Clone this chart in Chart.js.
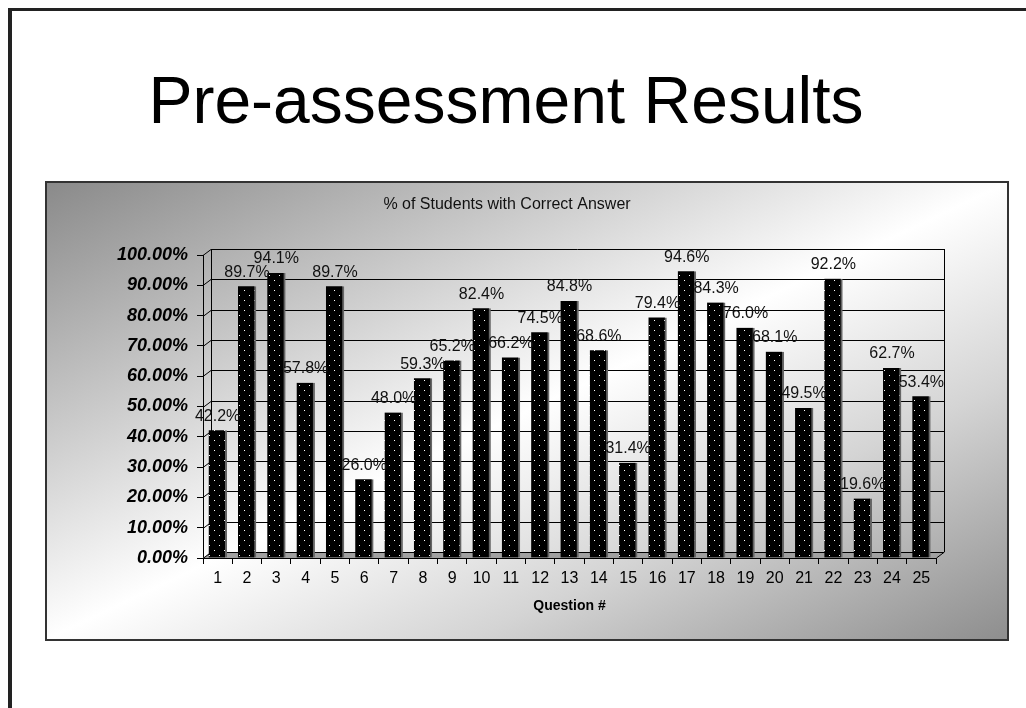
<!DOCTYPE html>
<html>
<head>
<meta charset="utf-8">
<script src="https://cdn.jsdelivr.net/npm/chart.js@4"></script>
<style>
  body { margin: 0; width: 1026px; height: 708px; overflow: hidden; background: #fff; font-family: "Liberation Sans", Arial, sans-serif; }
  #frame { position: absolute; left: 8px; top: 8px; width: 1030px; height: 720px; border-top: 3px solid #222; border-left: 4px solid #222; }
  #heading { position: absolute; left: 0; width: 1012px; top: 62px; text-align: center; font-size: 66px; line-height: 76px; color: #000; }
  #box { position: absolute; left: 45px; top: 181px; width: 960px; height: 456px; border: 2px solid #333;
         background: linear-gradient(to bottom right, #8a8a8a 0%, #d0d0d0 30%, #ffffff 50%, #d4d4d4 72%, #8e8e8e 100%); }
  #box canvas { position: absolute; left: 0; top: 0; }
</style>
</head>
<body>
<div id="frame"></div>
<div id="heading">Pre-assessment Results</div>
<div id="box"><canvas id="resultsChart" width="960" height="456"></canvas></div>
<script>
// chart data
const questions = ['1','2','3','4','5','6','7','8','9','10','11','12','13','14','15','16','17','18','19','20','21','22','23','24','25'];
const correctPct = [42.2, 89.7, 94.1, 57.8, 89.7, 26.0, 48.0, 59.3, 65.2, 82.4, 66.2, 74.5, 84.8,
                    68.6, 31.4, 79.4, 94.6, 84.3, 76.0, 68.1, 49.5, 92.2, 19.6, 62.7, 53.4];
const yTicks = [0, 10, 20, 30, 40, 50, 60, 70, 80, 90, 100];

// black fill with little white dots
function dotPattern() {
    const c = document.createElement('canvas');
    c.width = 10; c.height = 10;
    const g = c.getContext('2d');
    g.fillStyle = '#000';
    g.fillRect(0, 0, 10, 10);
    g.fillStyle = '#fff';
    g.fillRect(2, 2, 1, 1);
    g.fillRect(7, 7, 1, 1);
    return g.createPattern(c, 'repeat');
}

const DX = 8, DY = 6;  // depth offset of the back wall

// back wall grid + floor, drawn behind the bars
const wallPlugin = {
    id: 'wall',
    beforeDatasetsDraw(chart) {
        const ctx = chart.ctx;
        const y = chart.scales.y;
        const a = chart.chartArea;
        ctx.save();
        // floor
        ctx.fillStyle = '#a0a0a0';
        ctx.beginPath();
        ctx.moveTo(a.left, a.bottom);
        ctx.lineTo(a.left + DX, a.bottom - DY);
        ctx.lineTo(a.right + DX, a.bottom - DY);
        ctx.lineTo(a.right, a.bottom);
        ctx.closePath();
        ctx.fill();
        ctx.strokeStyle = '#000';
        ctx.lineWidth = 1;
        // grid lines on the back wall
        yTicks.forEach(function (v) {
            const py = Math.round(y.getPixelForValue(v)) + 0.5;
            ctx.beginPath();
            ctx.moveTo(a.left, py);
            ctx.lineTo(a.left + DX, py - DY);
            ctx.lineTo(a.right + DX, py - DY);
            ctx.stroke();
        });
        // wall edges
        ctx.beginPath();
        ctx.moveTo(a.left + DX + 0.5, a.top - DY);
        ctx.lineTo(a.left + DX + 0.5, a.bottom - DY);
        ctx.moveTo(a.right + DX + 0.5, a.top - DY);
        ctx.lineTo(a.right + DX + 0.5, a.bottom - DY);
        ctx.lineTo(a.right + 0.5, a.bottom);
        ctx.stroke();
        ctx.restore();
    }
};

// value labels above the bars
const labelPlugin = {
    id: 'barLabels',
    afterDatasetsDraw(chart) {
        const ctx = chart.ctx;
        const meta = chart.getDatasetMeta(0);
        ctx.save();
        ctx.font = '16px "Liberation Sans", Arial, sans-serif';
        ctx.fillStyle = '#111';
        ctx.textAlign = 'center';
        ctx.textBaseline = 'bottom';
        meta.data.forEach(function (bar, i) {
            ctx.fillText(correctPct[i].toFixed(1) + '%', bar.x, bar.y - 6);
        });
        ctx.restore();
    }
};

const ctx = document.getElementById('resultsChart').getContext('2d');
new Chart(ctx, {
    type: 'bar',
    data: {
        labels: questions,
        datasets: [{
            label: '% of Students with Correct Answer',
            data: correctPct,
            backgroundColor: dotPattern(),
            borderColor: '#666',
            borderWidth: { top: 0, left: 0, bottom: 0, right: 2 },
            borderSkipped: false,
            barThickness: 18
        }]
    },
    options: {
        responsive: false,
        animation: false,
        layout: { padding: { left: 31, right: 71, top: 0, bottom: 0 } },
        plugins: {
            legend: { display: false },
            tooltip: { enabled: false },
            title: {
                display: true,
                text: '% of Students with Correct Answer',
                color: '#111',
                font: { family: '"Liberation Sans", Arial, sans-serif', size: 16, weight: 'normal' },
                padding: { top: 12, bottom: 40.8 }
            }
        },
        scales: {
            x: {
                grid: { drawOnChartArea: false, tickLength: 6, color: '#000', offset: true },
                border: { color: '#000' },
                ticks: { color: '#000', padding: 5, maxRotation: 0, autoSkip: false,
                         font: { family: '"Liberation Sans", Arial, sans-serif', size: 16 } },
                title: {
                    display: true,
                    text: 'Question #',
                    color: '#000',
                    font: { family: '"Liberation Sans", Arial, sans-serif', size: 14, weight: 'bold' },
                    padding: { top: 0, bottom: 24 }
                },
                afterFit: function (scale) { scale.height = 81; }
            },
            y: {
                min: 0,
                max: 100,
                grid: { drawOnChartArea: false, tickLength: 6, color: '#000' },
                border: { color: '#000' },
                ticks: {
                    stepSize: 10,
                    color: '#000',
                    padding: 9,
                    font: { family: '"Liberation Sans", Arial, sans-serif', size: 18, weight: 'bold', style: 'italic' },
                    callback: function (v) { return v.toFixed(2) + '%'; }
                },
                afterFit: function (scale) { scale.width = 125; }
            }
        }
    },
    plugins: [wallPlugin, labelPlugin]
});
</script>
</body>
</html>
